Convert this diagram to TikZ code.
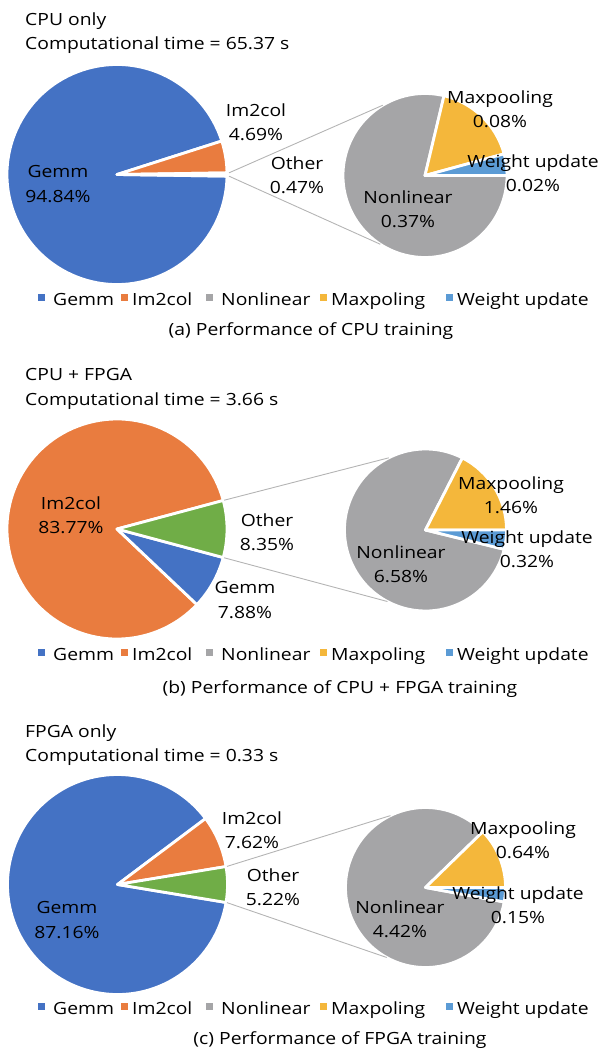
\documentclass[tikz,border=0pt]{standalone}
\usepackage{fontspec}
\setmainfont{Open Sans}[FakeStretch=1.15]
\definecolor{gemm}{HTML}{4472C4}
\definecolor{im2col}{HTML}{E97C3F}
\definecolor{nonlin}{HTML}{A5A5A7}
\definecolor{maxp}{HTML}{F4B73B}
\definecolor{weight}{HTML}{5B9BD5}
\definecolor{other}{HTML}{70AD47}
\definecolor{linkgray}{HTML}{B4B4B4}
% one wedge of a pie, drawn about the origin of the current scope
\newcommand\pieslice[4]{%
  \filldraw[fill=#1, sep] (0,0) -- (#2:#4) arc[start angle=#2, end angle=#3, radius=#4] -- cycle;}
% legend row: colour squares and their names
\newcommand\legendrow[2]{%
  \foreach \c/\sx/\tx/\t [count=\i] in {gemm/41.5/53/Gemm, im2col/124.5/132/Im2col, nonlin/209/221/Nonlinear, maxp/323.5/331/Maxpoling, weight/449.5/457/Weight update}{%
    \node[legsq, fill=\c] (#1sq\i) at (\sx, #2-8) {};
    \node[anchor=base west, inner sep=0pt] (#1lg\i) at (\tx, #2) {\t};
  }}
\begin{document}
\begin{tikzpicture}[x=1pt, y=-1pt,
  font=\fontsize{16.8}{24.5}\selectfont,
  lbl/.style={align=center, inner sep=0pt},
  ttl/.style={anchor=base west, inner sep=0pt},
  captxt/.style={anchor=base, inner sep=0pt},
  sep/.style={draw=white, line width=2.8pt, line join=round},
  link/.style={draw=linkgray, line width=0.9pt},
  legsq/.style={draw=none, minimum size=7pt, inner sep=0pt}]
\useasboundingbox (0,0) rectangle (601,1050);

% ---------------- (a) CPU only ----------------
\node[ttl] (aT1) at (25,25) {CPU only};
\node[ttl] (aT2) at (25,49.5) {Computational time = 65.37 s};
\begin{scope}[shift={(117,174.5)}, yscale=-1]
  \pieslice{gemm}{17.73}{359.15}{110}
  \pieslice{im2col}{0.85}{17.73}{110}
  \pieslice{other}{-0.85}{0.85}{110}
  \coordinate (aO1) at (0.85:112);
  \coordinate (aO2) at (-0.85:112);
\end{scope}
\begin{scope}[shift={(425,175.5)}, yscale=-1]
  \pieslice{nonlin}{76.6}{360}{82}
  \pieslice{maxp}{15.3}{76.6}{82}
  \pieslice{weight}{0}{15.3}{82}
  \coordinate (aS1) at (121:82);
  \coordinate (aS2) at (-123:82);
\end{scope}
\draw[link] (aO1) -- (aS1);
\draw[link] (aO2) -- (aS2);
\node[lbl] (aGemm) at (58,184) {Gemm\\94.84\%};
\node[lbl] (aIm) at (256,122) {Im2col\\4.69\%};
\node[lbl] (aOth) at (297,175) {Other\\0.47\%};
\node[lbl] (aNon) at (408,209) {Nonlinear\\0.37\%};
\node[lbl] (aMax) at (500,109) {Maxpooling\\0.08\%};
\node[lbl] (aWt) at (533,173) {Weight update\\0.02\%};
\legendrow{a}{305}
\node[captxt] (aCap) at (311,335) {(a) Performance of CPU training};

% ---------------- (b) CPU + FPGA ----------------
\node[ttl] (bT1) at (25,380) {CPU + FPGA};
\node[ttl] (bT2) at (25,405) {Computational time = 3.66 s};
\begin{scope}[shift={(117,529)}, yscale=-1]
  \pieslice{im2col}{15.03}{316.6}{110}
  \pieslice{gemm}{-43.4}{-15.03}{110}
  \pieslice{other}{-15.03}{15.03}{110}
  \coordinate (bO1) at (15.03:111);
  \coordinate (bO2) at (-15.03:111);
\end{scope}
\begin{scope}[shift={(425.5,530)}, yscale=-1]
  \pieslice{nonlin}{62.9}{346.2}{81}
  \pieslice{maxp}{0}{62.9}{81}
  \pieslice{weight}{-13.8}{0}{81}
  \coordinate (bS1) at (117:81);
  \coordinate (bS2) at (-118:81);
\end{scope}
\draw[link] (bO1) -- (bS1);
\draw[link] (bO2) -- (bS2);
\node[lbl] (bIm) at (71,515) {Im2col\\83.77\%};
\node[lbl] (bOth) at (267,532) {Other\\8.35\%};
\node[lbl] (bGemm) at (245,600) {Gemm\\7.88\%};
\node[lbl] (bMax) at (511,495) {Maxpooling\\1.46\%};
\node[lbl] (bWt) at (527,549) {Weight update\\0.32\%};
\node[lbl] (bNon) at (401,564) {Nonlinear\\6.58\%};
\legendrow{b}{660}
\node[captxt] (bCap) at (340,693) {(b) Performance of CPU + FPGA training};

% ---------------- (c) FPGA only ----------------
\node[ttl] (cT1) at (25,737) {FPGA only};
\node[ttl] (cT2) at (25,761) {Computational time = 0.33 s};
\begin{scope}[shift={(117.5,884.5)}, yscale=-1]
  \pieslice{gemm}{36.83}{350.6}{110}
  \pieslice{im2col}{9.4}{36.83}{110}
  \pieslice{other}{-9.4}{9.4}{110}
  \coordinate (cO1) at (9.4:111);
  \coordinate (cO2) at (-9.4:111);
\end{scope}
\begin{scope}[shift={(425.5,887.5)}, yscale=-1]
  \pieslice{nonlin}{44.2}{349.6}{80}
  \pieslice{maxp}{0}{44.2}{80}
  \pieslice{weight}{-10.4}{0}{80}
  \coordinate (cS1) at (116:80);
  \coordinate (cS2) at (-119:80);
\end{scope}
\draw[link] (cO1) -- (cS1);
\draw[link] (cO2) -- (cS2);
\node[lbl] (cIm) at (252,830) {Im2col\\7.62\%};
\node[lbl] (cOth) at (273,887) {Other\\5.22\%};
\node[lbl] (cGemm) at (67,920) {Gemm\\87.16\%};
\node[lbl] (cMax) at (523,840) {Maxpooling\\0.64\%};
\node[lbl] (cWt) at (518,905) {Weight update\\0.15\%};
\node[lbl] (cNon) at (400,919) {Nonlinear\\4.42\%};
\legendrow{c}{1014}
\node[captxt] (cCap) at (340,1044) {(c) Performance of FPGA training};
\end{tikzpicture}
\end{document}
